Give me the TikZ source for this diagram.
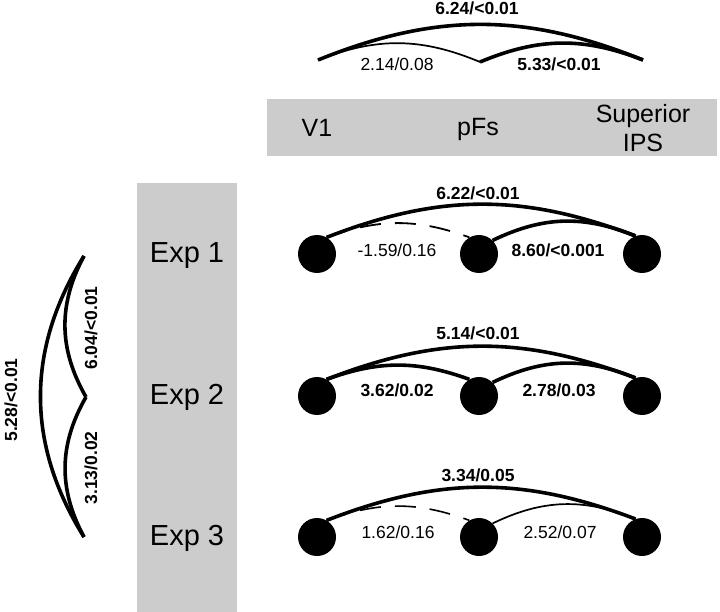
\documentclass[tikz,border=0pt]{standalone}
\usepackage{fontspec}
\setmainfont{Liberation Sans}
\usetikzlibrary{positioning}

\begin{document}
\begin{tikzpicture}[x=1pt,y=1pt,
  roi/.style={circle,fill=black,minimum size=38pt,inner sep=0pt},
  band/.style={fill=gray!40,draw=none},
  hdr/.style={font=\fontsize{25}{29}\selectfont,align=center},
  expl/.style={font=\fontsize{29}{33}\selectfont},
  val/.style={font=\fontsize{17.5}{20}\selectfont,inner sep=1pt},
  sig/.style={inner sep=1pt,font=\fontsize{17.5}{20}\selectfont\bfseries},
  strong/.style={line width=3.6pt},
  weak/.style={line width=1.7pt},
  null/.style={line width=1.8pt,dash pattern=on 21pt off 14pt}
]
\useasboundingbox (0,0) rectangle (720,-612);
\fill[band] (267,-99) rectangle (717,-156);
\fill[band] (137,-183) rectangle (237,-612);

% region header
\node[hdr] (hv1) at (317,-128) {V1};
\node[hdr] (hpfs) at (478,-129) {pFs};
\node[hdr] (hips) at (643,-128) {Superior\\IPS};

% pooled comparison across regions
\coordinate (ta) at (318,-60);
\coordinate (tb) at (480,-62);
\coordinate (tc) at (643,-60);
\draw[strong] (ta) to[bend left=22] (tc);
\draw[weak] (ta) to[bend left=22] (tb);
\draw[strong] (tb) to[bend left=22] (tc);
\node[sig] (tac) at (477,-8) {6.24/<0.01};
\node[val] (tab) at (397,-64) {2.14/0.08};
\node[sig] (tbc) at (559,-64) {5.33/<0.01};

% experiments
\node[expl] (e1) at (187,-256) {Exp 1};
\node[expl] (e2) at (187,-397) {Exp 2};
\node[expl] (e3) at (187,-538) {Exp 3};

% pooled comparison across experiments
\coordinate (la) at (84,-256);
\coordinate (lb) at (86,-397);
\coordinate (lc) at (84,-537);
\draw[strong] (lc) to[bend left=32] (la);
\draw[strong] (lb) to[bend left=29] (la);
\draw[strong] (lc) to[bend left=29] (lb);
\node[sig,rotate=90] (lac) at (11,-400) {5.28/<0.01};
\node[sig,rotate=90] (lab) at (91,-328) {6.04/<0.01};
\node[sig,rotate=90] (lbc) at (91,-468) {3.13/0.02};

% Exp 1
\node[roi] (v1a) at (317,-254) {};
\node[roi] (pfsa) at (479,-254) {};
\node[roi] (ipsa) at (642,-254) {};
\draw[strong] (v1a.60) to[bend left=21] (ipsa.110);
\draw[null] (v1a.60) to[bend left=20] (pfsa.120);
\draw[strong] (pfsa.45) to[bend left=24] (ipsa.110);
\node[sig] (ac) at (478,-193) {6.22/<0.01};
\node[val] (ab) at (397,-250) {-1.59/0.16};
\node[sig] (bc) at (558,-250) {8.60/<0.001};

% Exp 2
\node[roi] (v1b) at (317,-396) {};
\node[roi] (pfsb) at (479,-396) {};
\node[roi] (ipsb) at (642,-396) {};
\draw[strong] (v1b.60) to[bend left=21] (ipsb.110);
\draw[strong] (v1b.60) to[bend left=20] (pfsb.120);
\draw[strong] (pfsb.45) to[bend left=24] (ipsb.110);
\node[sig] (ac2) at (478,-333) {5.14/<0.01};
\node[sig] (ab2) at (397,-390) {3.62/0.02};
\node[sig] (bc2) at (559,-390) {2.78/0.03};

% Exp 3
\node[roi] (v1c) at (317,-537) {};
\node[roi] (pfsc) at (479,-537) {};
\node[roi] (ipsc) at (642,-537) {};
\draw[strong] (v1c.60) to[bend left=21] (ipsc.110);
\draw[null,line width=1.6pt] (v1c.60) to[bend left=20] (pfsc.120);
\draw[weak] (pfsc.45) to[bend left=24] (ipsc.110);
\node[sig] (ac3) at (478,-475) {3.34/0.05};
\node[val] (ab3) at (398,-532) {1.62/0.16};
\node[val] (bc3) at (560,-532) {2.52/0.07};
\end{tikzpicture}
\end{document}
